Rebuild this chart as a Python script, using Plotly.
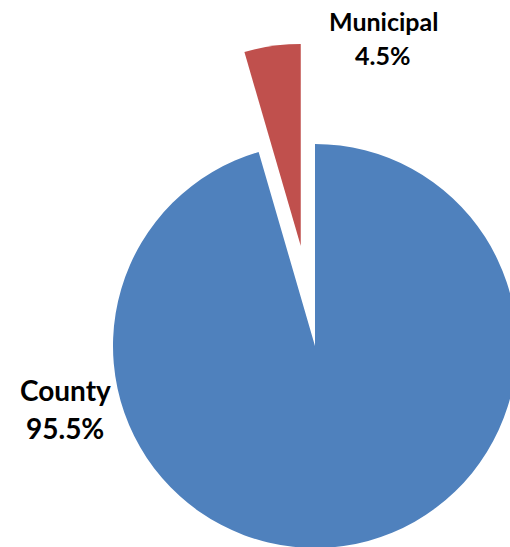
import plotly.graph_objects as go

labels = ["County", "Municipal"]
values = [95.5, 4.5]
pulls = [0, 0.5]
colors = ["#4F81BD", "#C0504D"]

W, H = 700, 750
cx, cy, r = 315, 346, 202
ext = r * 1.5

fig = go.Figure(go.Pie(
    labels=labels,
    values=values,
    pull=pulls,
    sort=False,
    direction="clockwise",
    rotation=0,
    marker=dict(colors=colors, line=dict(width=0)),
    textinfo="none",
    hoverinfo="skip",
    showlegend=False,
    domain=dict(x=[(cx - ext) / W, (cx + ext) / W],
                y=[(H - cy - 340) / H, (H - cy + 340) / H]),
))

fam = "Lato, 'Open Sans', sans-serif"
ann = [
    ("<b>Municipal</b>", 383, 21, 25),
    ("<b>4.5%</b>", 382, 55, 25),
    ("<b>County</b>", 65, 390, 28),
    ("<b>95.5%</b>", 65, 428, 28),
]
fig.update_layout(
    width=W, height=H,
    margin=dict(l=0, r=0, t=0, b=0),
    paper_bgcolor="white", plot_bgcolor="white",
    annotations=[dict(text=t, x=x / W, y=1 - y / H, xref="paper", yref="paper",
                      showarrow=False, font=dict(family=fam, size=s, color="#000000"),
                      xanchor="center", yanchor="middle")
                 for t, x, y, s in ann],
)

fig.write_html("out.html",
               post_script="document.body.style.margin='0';document.body.style.overflow='hidden';document.documentElement.style.overflow='hidden';")
